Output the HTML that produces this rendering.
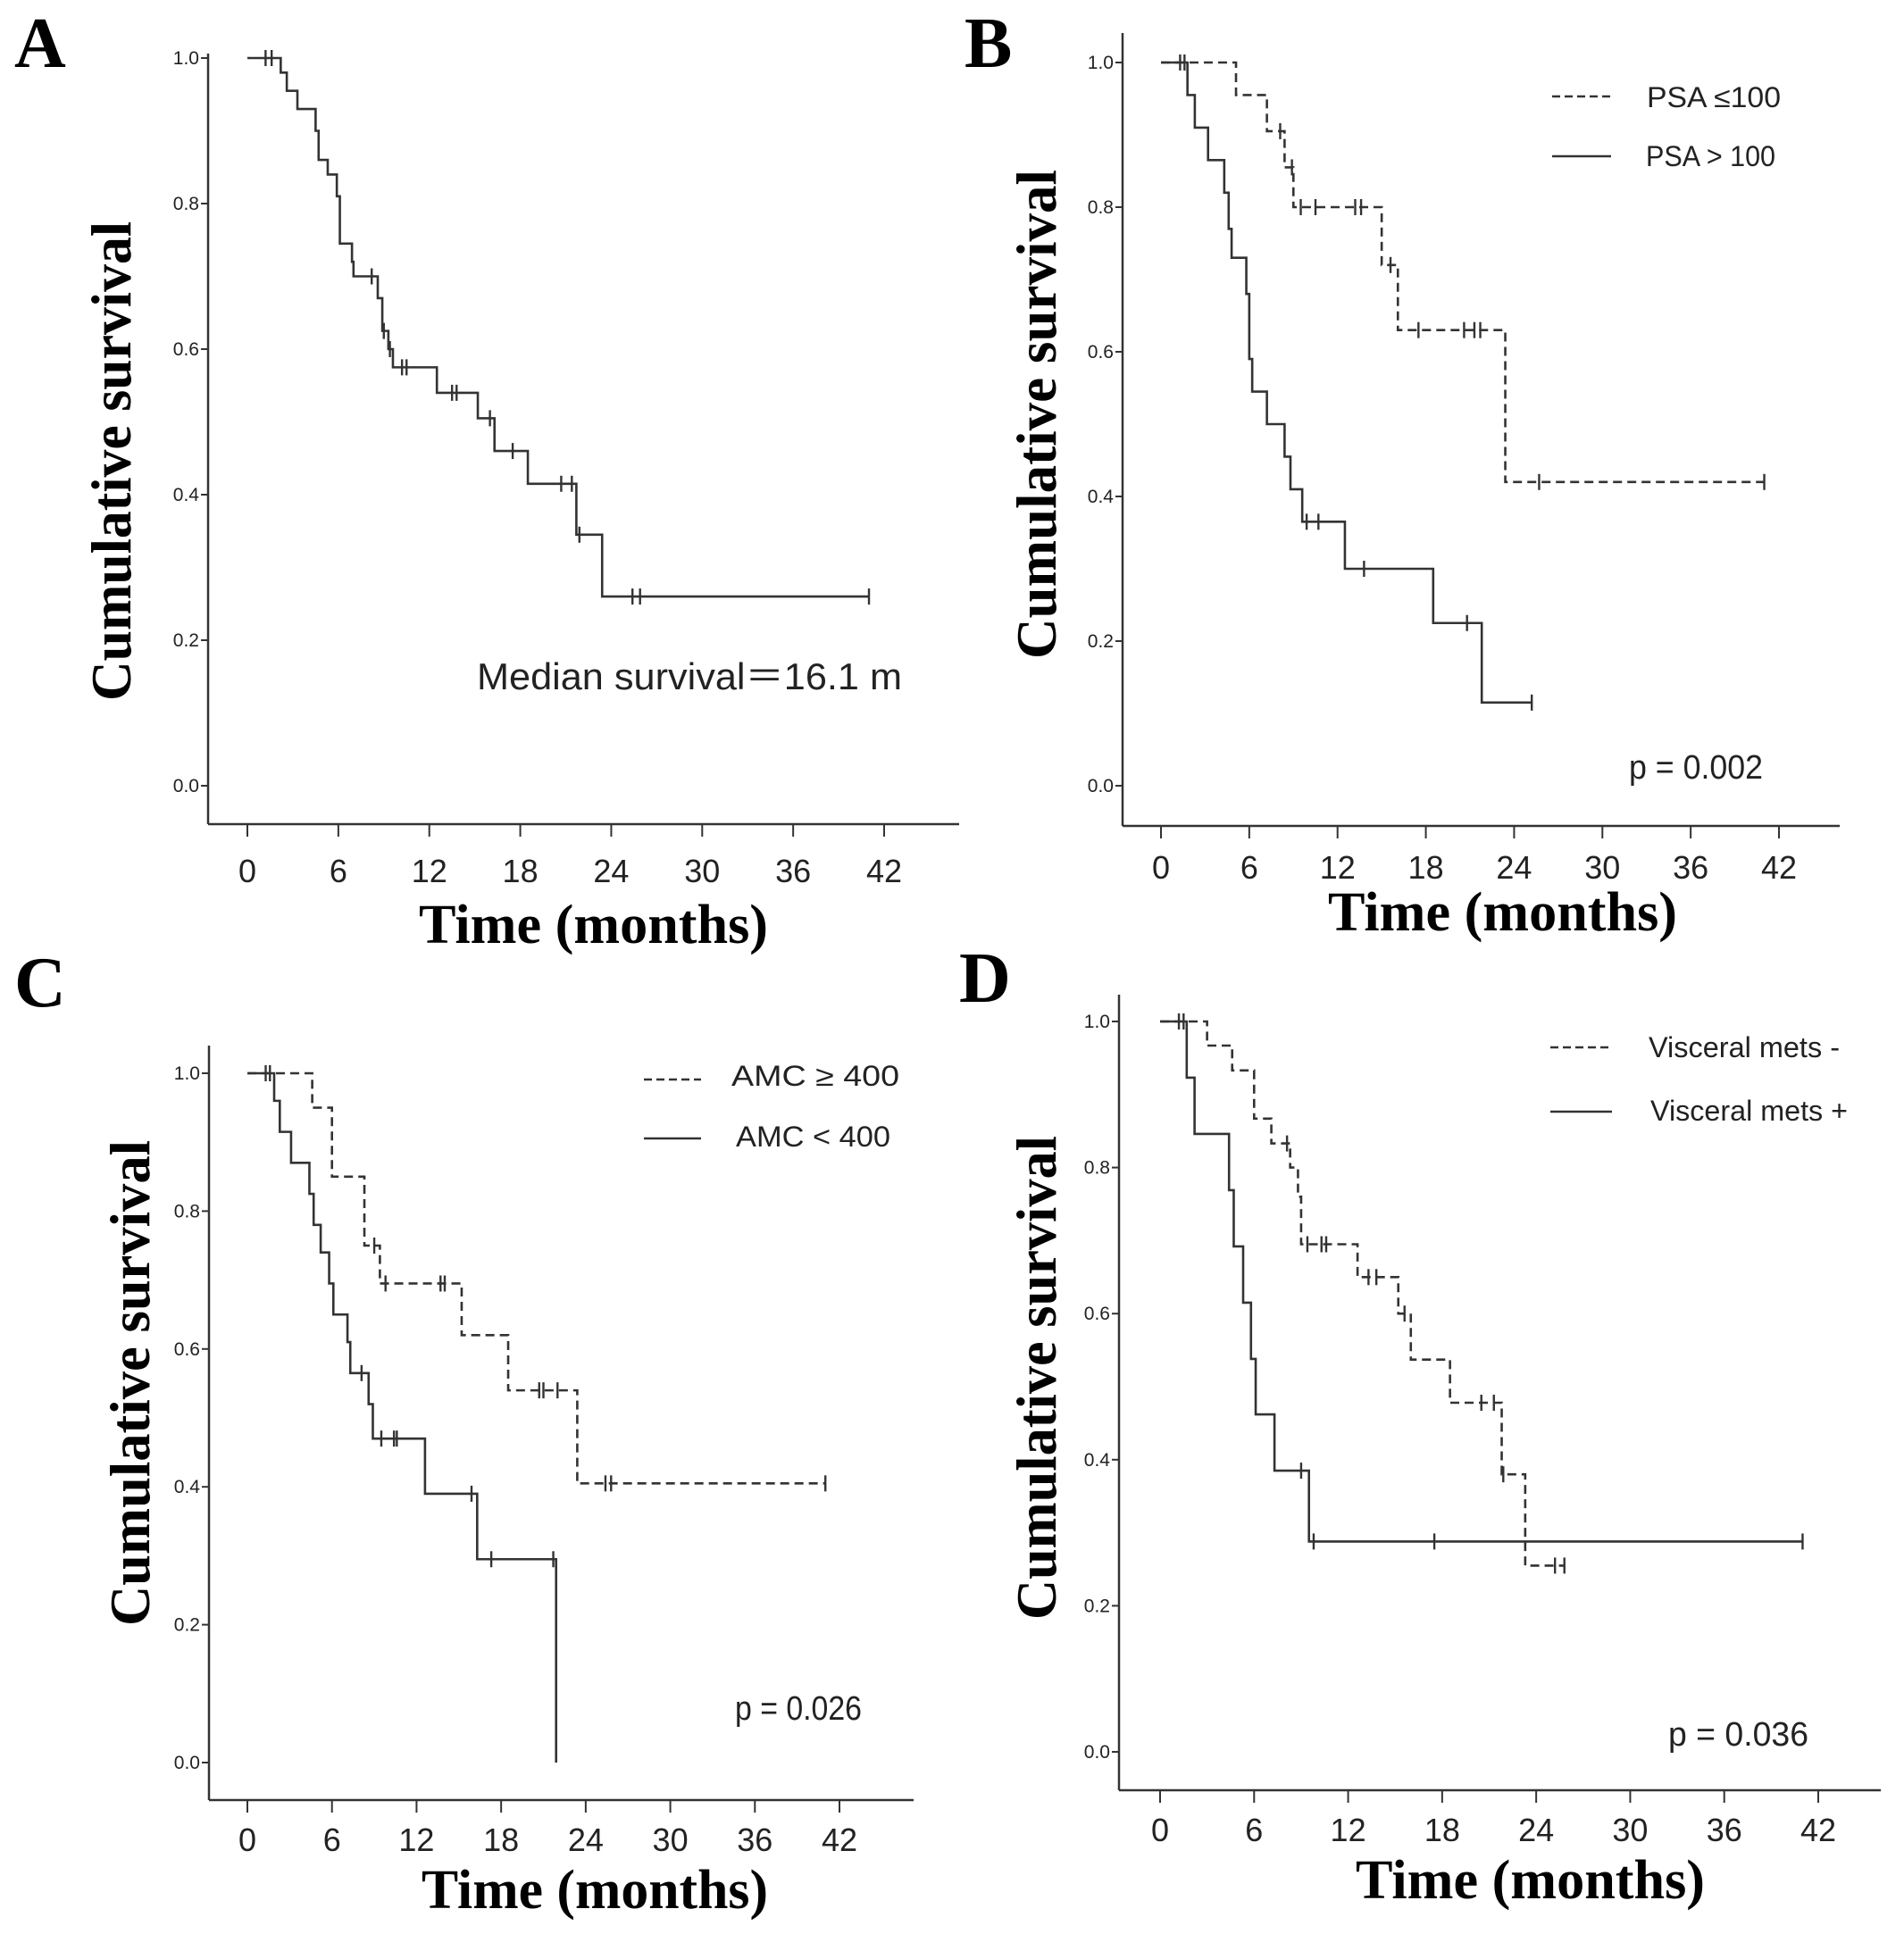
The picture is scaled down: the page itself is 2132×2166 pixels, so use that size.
<!DOCTYPE html>
<html><head><meta charset="utf-8"><style>
html,body{margin:0;padding:0;background:#fff;}
svg{display:block;}
.tk{font-family:"Liberation Sans",sans-serif;fill:#222;}
.ttl{font-family:"Liberation Serif",serif;font-weight:bold;fill:#000;}
</style></head><body>
<svg id="fig" width="2132" height="2166" viewBox="0 0 2132 2166" xmlns="http://www.w3.org/2000/svg"></svg>
<script>
// Panel A - overall
const aTimes=[2.2,2.6,3.3,4.5,4.7,5.3,5.9,6.1,6.9,7.0,8.6,8.9,9.3,9.6,12.5,15.2,16.3,18.5,21.7,23.4];
const aSurv=[0.98,0.955,0.93,0.90,0.86,0.84,0.81,0.745,0.72,0.70,0.67,0.625,0.60,0.575,0.54,0.505,0.46,0.415,0.345,0.26];
const aCens=[1.2,1.6,8.2,9.0,9.4,10.2,10.5,13.5,13.8,16.0,17.5,20.7,21.4,21.9,25.4,25.9,41];
const aEnd=41;
// Panel B
const bDashTimes=[5.1,7.2,8.4,9.0,15.0,16.1,23.4];
const bDashSurv=[0.955,0.905,0.855,0.80,0.72,0.63,0.42];
const bDashCens=[1.3,1.6,8.1,8.9,9.5,10.5,13.2,13.6,15.6,17.5,20.6,21.3,21.7,25.7,41];
const bDashEnd=41;
const bSolTimes=[1.8,2.3,3.2,4.3,4.6,4.8,5.8,6.0,6.2,7.2,8.4,8.8,9.6,12.5,18.5,21.8];
const bSolSurv=[0.955,0.91,0.865,0.82,0.77,0.73,0.68,0.59,0.545,0.50,0.455,0.41,0.365,0.30,0.225,0.115];
const bSolCens=[9.9,10.7,13.8,20.8,25.2];
const bSolEnd=25.2;
// Panel C
const cDashTimes=[4.6,6.0,8.3,9.4,15.2,18.5,23.4];
const cDashSurv=[0.95,0.85,0.75,0.695,0.62,0.54,0.405];
const cDashCens=[1.3,1.6,9.0,9.8,13.7,14.0,20.7,21.0,22.0,25.4,25.8,41];
const cDashEnd=41;
const cSolTimes=[1.9,2.3,3.1,4.4,4.7,5.2,5.8,6.1,7.1,7.3,8.6,8.9,12.6,16.3,21.9];
const cSolSurv=[0.96,0.915,0.87,0.825,0.78,0.74,0.695,0.65,0.61,0.565,0.52,0.47,0.39,0.295,0.0];
const cSolCens=[8.1,9.5,10.4,10.6,15.9,17.3,21.7];
const cSolEnd=21.9;
// Panel D
const dDashTimes=[3.0,4.6,6.0,7.1,8.3,8.8,9.0,12.6,15.2,16.0,18.5,21.8,23.3];
const dDashSurv=[0.967,0.933,0.867,0.833,0.80,0.76,0.695,0.65,0.60,0.537,0.478,0.38,0.255];
const dDashCens=[1.2,1.5,8.1,9.4,10.3,10.6,13.3,13.8,15.6,20.5,21.3,21.9,25.2,25.8];
const dDashEnd=25.8;
const dSolTimes=[1.7,2.2,4.4,4.7,5.3,5.8,6.1,7.3,9.5];
const dSolSurv=[0.923,0.846,0.769,0.692,0.615,0.538,0.462,0.385,0.288];
const dSolCens=[9.0,9.8,17.5,41];
const dSolEnd=41;
const xTicks=[0,6,12,18,24,30,36,42];
const yTicks=[0,0.2,0.4,0.6,0.8,1.0];
const yTickLabels=["0.0","0.2","0.4","0.6","0.8","1.0"];

const NS="http://www.w3.org/2000/svg";
const svg=document.getElementById('fig');
function mk(tag,attrs,parent,text){const e=document.createElementNS(NS,tag);for(const k in attrs)e.setAttribute(k,attrs[k]);if(text!==undefined)e.textContent=text;(parent||svg).appendChild(e);return e;}

const panels=[
 {id:'a',letter:'A',lx:16,ly:75,ax:233,axTop:60,axY:923,axEnd:1074,x0:277,x42:990,y1:65,y0:880,
  yt:{x:146,y1:248,y2:785},xt:{x1:469,x2:860,y:1056},tkY:988,
  series:[{t:aTimes,s:aSurv,c:aCens,end:aEnd,dash:false,name:'overall'}]},
 {id:'b',letter:'B',lx:1080,ly:75,ax:1257,axTop:37,axY:925,axEnd:2060,x0:1300,x42:1992,y1:70,y0:880,
  yt:{x:1182,y1:190,y2:738},xt:{x1:1487,x2:1878,y:1042},tkY:984,
  series:[{t:bDashTimes,s:bDashSurv,c:bDashCens,end:bDashEnd,dash:true,name:'psa-le-100'},{t:bSolTimes,s:bSolSurv,c:bSolCens,end:bSolEnd,dash:false,name:'psa-gt-100'}],
  legend:[{y:108,x1:1738,x2:1804,tx:1844,ty:120,txt:'PSA \u2264100',w:150,dash:true},{y:175,x1:1738,x2:1804,tx:1843,ty:186,txt:'PSA > 100',w:145,dash:false}],
  p:{x:1824,y:872,txt:'p = 0.002',w:150}},
 {id:'c',letter:'C',lx:16,ly:1127,ax:234,axTop:1171,axY:2016,axEnd:1023,x0:277,x42:940,y1:1202,y0:1974,
  yt:{x:167,y1:1277,y2:1821},xt:{x1:472,x2:860,y:2137},tkY:2073,
  series:[{t:cDashTimes,s:cDashSurv,c:cDashCens,end:cDashEnd,dash:true,name:'amc-ge-400'},{t:cSolTimes,s:cSolSurv,c:cSolCens,end:cSolEnd,dash:false,name:'amc-lt-400'}],
  legend:[{y:1209,x1:721,x2:785,tx:819,ty:1216,txt:'AMC \u2265 400',w:188,dash:true},{y:1275,x1:721,x2:785,tx:824,ty:1284,txt:'AMC < 400',w:173,dash:false}],
  p:{x:823,y:1926,txt:'p = 0.026',w:142}},
 {id:'d',letter:'D',lx:1074,ly:1122,ax:1253,axTop:1114,axY:2005,axEnd:2106,x0:1299,x42:2036,y1:1144,y0:1962,
  yt:{x:1182,y1:1272,y2:1814},xt:{x1:1518,x2:1909,y:2126},tkY:2062,
  series:[{t:dDashTimes,s:dDashSurv,c:dDashCens,end:dDashEnd,dash:true,name:'visceral-mets-neg'},{t:dSolTimes,s:dSolSurv,c:dSolCens,end:dSolEnd,dash:false,name:'visceral-mets-pos'}],
  legend:[{y:1173,x1:1736,x2:1805,tx:1846,ty:1184,txt:'Visceral mets -',w:214,dash:true},{y:1245,x1:1736,x2:1805,tx:1848,ty:1255,txt:'Visceral mets +',w:221,dash:false}],
  p:{x:1868,y:1955,txt:'p = 0.036',w:157}}
];

function survAt(t,times,surv){let v=1;for(let i=0;i<times.length;i++){if(times[i]<=t)v=surv[i];}return v;}

panels.forEach(P=>{
 const g=mk('g',{});
 
 
 const X=v=>P.x0+(P.x42-P.x0)*v/42;
 const Y=v=>P.y0+(P.y1-P.y0)*v;
 const L=mk('text',{x:P.lx,y:P.ly,class:'ttl','font-size':80},g,P.letter);
 
 
 const ya=mk('line',{x1:P.ax,y1:P.axTop,x2:P.ax,y2:P.axY,stroke:'#333','stroke-width':2.5},g);
 
 
 const xa=mk('line',{x1:P.ax,y1:P.axY,x2:P.axEnd,y2:P.axY,stroke:'#333','stroke-width':2.5},g);
 
 
 yTicks.forEach((v,i)=>{
  mk('line',{x1:P.ax-8,y1:Y(v),x2:P.ax,y2:Y(v),stroke:'#333','stroke-width':2},g);
  const t=mk('text',{x:P.ax-10,y:Y(v)+7,class:'tk','font-size':21,'text-anchor':'end'},g,yTickLabels[i]);
  
  
 });
 xTicks.forEach(v=>{
  mk('line',{x1:X(v),y1:P.axY,x2:X(v),y2:P.axY+14,stroke:'#333','stroke-width':2},g);
  const t=mk('text',{x:X(v),y:P.tkY,class:'tk','font-size':36,'text-anchor':'middle'},g,String(v));
  
  
 });
 const cy=(P.yt.y1+P.yt.y2)/2;
 const yt=mk('text',{x:0,y:0,class:'ttl','font-size':64,'text-anchor':'middle',textLength:P.yt.y2-P.yt.y1,lengthAdjust:'spacingAndGlyphs',transform:`translate(${P.yt.x},${cy}) rotate(-90)`},g,'Cumulative survival');
 
 
 const xt=mk('text',{x:P.xt.x1,y:P.xt.y,class:'ttl','font-size':62,textLength:P.xt.x2-P.xt.x1,lengthAdjust:'spacingAndGlyphs'},g,'Time (months)');
 
 
 P.series.forEach(S=>{
  let d=`M${X(0)},${Y(1)}`;
  S.t.forEach((t,i)=>{d+=` H${X(t)} V${Y(S.s[i])}`;});
  d+=` H${X(S.end)}`;
  const attrs={d:d,fill:'none',stroke:'#333','stroke-width':2.6};
  if(S.dash)attrs['stroke-dasharray']='10,6';
  const p=mk('path',attrs,g);
  
  
  S.c.forEach(ct=>{
   const v=survAt(ct,S.t,S.s);
   const m=mk('line',{x1:X(ct),y1:Y(v)-9,x2:X(ct),y2:Y(v)+9,stroke:'#333','stroke-width':2.4},g);
   
   
  });
 });
 (P.legend||[]).forEach(E=>{
  const la={x1:E.x1,y1:E.y,x2:E.x2,y2:E.y,stroke:'#333','stroke-width':2.6};
  if(E.dash)la['stroke-dasharray']='9,5';
  const ln=mk('line',la,g);
  
  
  const t=mk('text',{x:E.tx,y:E.ty,class:'tk','font-size':32,textLength:E.w,lengthAdjust:'spacingAndGlyphs'},g,E.txt);
  
  
 });
 if(P.p){
  const t=mk('text',{x:P.p.x,y:P.p.y,class:'tk','font-size':38,textLength:P.p.w,lengthAdjust:'spacingAndGlyphs'},g,P.p.txt);
  
  
 }
 if(P.id==='a'){
  const t=mk('text',{x:534,y:772,class:'tk','font-size':42,textLength:476,lengthAdjust:'spacingAndGlyphs'},g,'Median survival\uFF1D16.1 m');
  
  
 }
});
</script>
</body></html>
